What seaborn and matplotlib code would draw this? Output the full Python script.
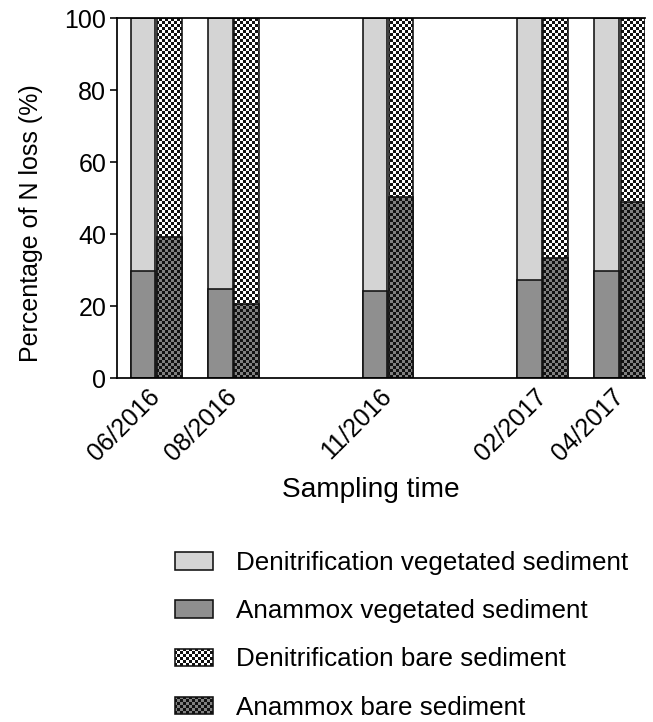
import numpy as np
import pandas as pd
import seaborn as sns
import matplotlib.pyplot as plt
import matplotlib.hatch as mhatch
import matplotlib.patches as mpatches
import matplotlib.transforms as mtrans
from matplotlib.path import Path


# checkerboard hatch (Prism style), drawn for the '*' hatch character
class CheckerHatch(mhatch.HatchPatternBase):
    def __init__(self, hatch, density):
        n = 32 if '*' in hatch else 0
        self.n = n
        self.cells = [(i, j) for i in range(n) for j in range(n) if (i + j) % 2 == 0]
        self.num_vertices = 5 * len(self.cells)

    def set_vertices_and_codes(self, vertices, codes):
        s = 1.0 / self.n
        sq = np.array([[0, 0], [1, 0], [1, 1], [0, 1], [0, 0]], dtype=float) * s
        vertices[:] = np.concatenate([sq + [i * s, j * s] for i, j in self.cells])
        c = [Path.MOVETO, Path.LINETO, Path.LINETO, Path.LINETO, Path.CLOSEPOLY]
        codes[:] = np.tile(c, len(self.cells))


mhatch._hatch_types[mhatch._hatch_types.index(mhatch.Stars)] = CheckerHatch

# data
times = ["06/2016", "08/2016", "11/2016", "02/2017", "04/2017"]
anammox_veg = [29.7, 24.7, 24.3, 27.1, 29.8]
anammox_bare = [39.2, 20.6, 50.4, 33.3, 48.8]
denit_veg = [100 - v for v in anammox_veg]
denit_bare = [100 - v for v in anammox_bare]

# slot of each sampling time on the axis (gaps between campaigns)
slot = [0, 1, 3, 5, 6]

df = pd.DataFrame({
    "pos": slot * 2,
    "site": ["vegetated"] * 5 + ["bare"] * 5,
    "anammox": anammox_veg + anammox_bare,
    "denit": denit_veg + denit_bare,
})
df["total"] = df["anammox"] + df["denit"]

sns.set_style("ticks")
plt.rcParams["font.family"] = ["Liberation Sans", "DejaVu Sans"]
plt.rcParams["hatch.linewidth"] = 0.0
for key in ["text.color", "axes.labelcolor", "xtick.color", "ytick.color"]:
    plt.rcParams[key] = "black"

fig = plt.figure(figsize=(653 / 96, 722 / 96), dpi=96)
ax = fig.add_axes([117 / 653, 1 - 378 / 722, (645 - 117) / 653, 360 / 722])

bar_kw = dict(x="pos", hue="site", hue_order=["vegetated", "bare"], native_scale=True,
              dodge=True, width=0.68, gap=0.06, errorbar=None, saturation=1,
              edgecolor="#111111", linewidth=1.2, legend=False, ax=ax)

# denitrification stacked on top of anammox -> draw cumulative total first
sns.barplot(data=df, y="total", palette={"vegetated": "#d4d4d4", "bare": "white"}, **bar_kw)
for bar in ax.containers[-1]:
    bar.set_hatch("*")
sns.barplot(data=df, y="anammox", palette={"vegetated": "#8f8f8f", "bare": "#808080"}, **bar_kw)
for bar in ax.containers[-1]:
    bar.set_hatch("*")

ax.set_xlim(-0.506, 6.325)
ax.set_ylim(0, 100)
ax.set_yticks([0, 20, 40, 60, 80, 100])
ax.set_xticks(slot)
ax.set_xticklabels(times, rotation=45, ha="right", va="center", rotation_mode="anchor")
shift = mtrans.ScaledTranslation(-12 / 96, 0, fig.dpi_scale_trans)
for lab in ax.get_xticklabels():
    lab.set_transform(lab.get_transform() + shift)
ax.tick_params(axis="x", length=0, labelsize=18.75, pad=11)
ax.tick_params(axis="y", length=5, width=1.2, labelsize=18.75, pad=3)
ax.set_xlabel("Sampling time", fontsize=21)
ax.set_ylabel("Percentage of N loss (%)", fontsize=18.75)
ax.xaxis.set_label_coords(0.481, -0.275)
ax.yaxis.set_label_coords(-0.140, 0.43)
for side in ["left", "bottom", "top"]:
    ax.spines[side].set_linewidth(1.3)
    ax.spines[side].set_color("black")
ax.spines["right"].set_visible(False)

handles = [
    mpatches.Patch(facecolor="#d4d4d4", edgecolor="#111111", linewidth=1.2,
                   label="Denitrification vegetated sediment"),
    mpatches.Patch(facecolor="#8f8f8f", edgecolor="#111111", linewidth=1.2,
                   label="Anammox vegetated sediment"),
    mpatches.Patch(facecolor="white", edgecolor="#111111", linewidth=1.2, hatch="*",
                   label="Denitrification bare sediment"),
    mpatches.Patch(facecolor="#808080", edgecolor="#111111", linewidth=1.2, hatch="*",
                   label="Anammox bare sediment"),
]
fig.legend(handles=handles, loc="upper left", bbox_to_anchor=(175 / 653, 1 - 551 / 722),
           frameon=False, fontsize=19.5, handlelength=1.46, handleheight=0.65,
           handletextpad=0.9, labelspacing=0.93, borderpad=0, borderaxespad=0)

fig.savefig("out.png", dpi=96)
